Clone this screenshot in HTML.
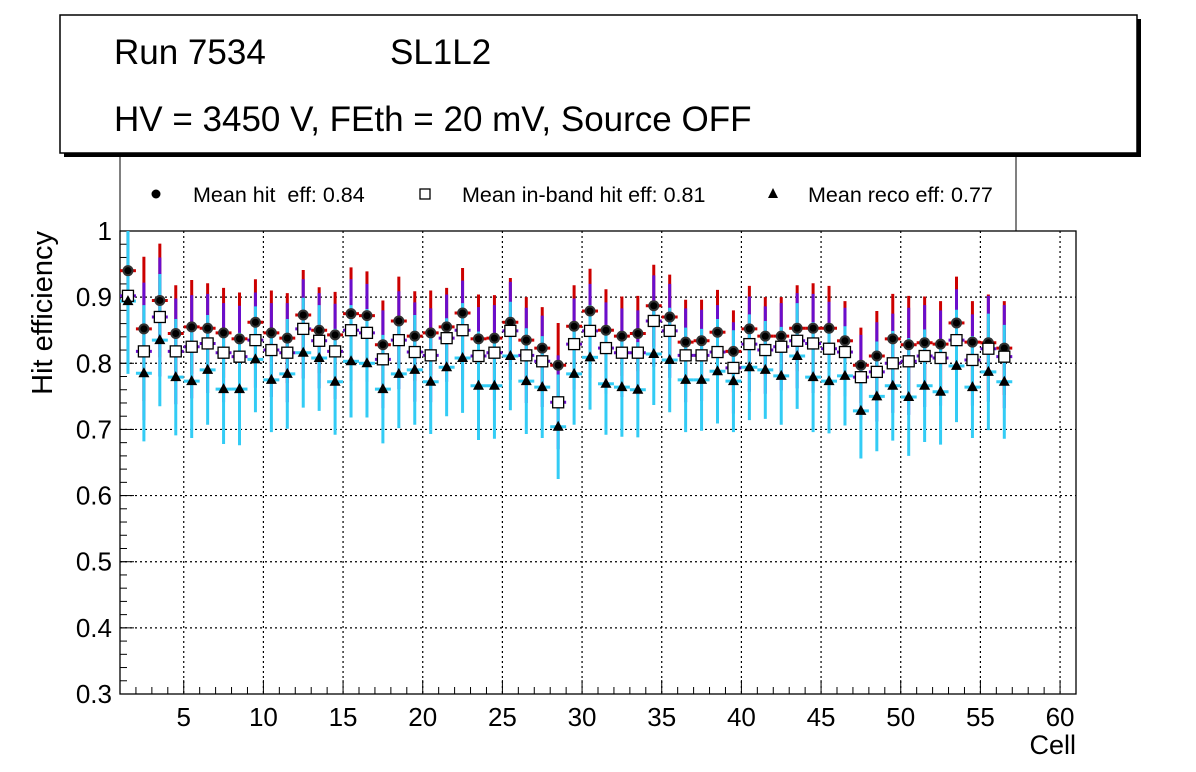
<!DOCTYPE html>
<html><head><meta charset="utf-8"><style>
body{margin:0;background:#fff;}
svg{display:block;font-family:"Liberation Sans",sans-serif;}
</style></head><body>
<svg id="chart" width="1196" height="772" viewBox="0 0 1196 772" xmlns="http://www.w3.org/2000/svg">
<rect x="0" y="0" width="1196" height="772" fill="#fff"/>
<g id="grid"></g>
<g id="axes"></g>
<g id="marks"></g>
<rect x="64" y="19" width="1077" height="138" fill="#000"/>
<rect x="60" y="15" width="1077" height="138" fill="#fff" stroke="#000" stroke-width="1.5"/>
<text x="114" y="64" font-size="35">Run 7534</text>
<text x="390" y="64" font-size="35">SL1L2</text>
<text x="114" y="131" font-size="35">HV = 3450 V, FEth = 20 mV, Source OFF</text>
<g>
<line x1="120" y1="153" x2="120" y2="231" stroke="#000" stroke-width="1"/>
<line x1="1016" y1="153" x2="1016" y2="231" stroke="#000" stroke-width="1"/>
<circle cx="156" cy="194" r="4.5" fill="#000"/>
<text x="193" y="202" font-size="21.5" xml:space="preserve">Mean hit  eff: 0.84</text>
<rect x="420" y="189" width="10" height="10" fill="#fff" stroke="#000" stroke-width="1.3"/>
<text x="462" y="202" font-size="21.5">Mean in-band hit eff: 0.81</text>
<polygon points="773,188 778,198 768,198" fill="#000"/>
<text x="808" y="202" font-size="21.5">Mean reco eff: 0.77</text>
</g>
<text x="0" y="0" font-size="29" text-anchor="end" transform="translate(52,231) rotate(-90)">Hit efficiency</text>
<text x="1076" y="754" font-size="27" text-anchor="end">Cell</text>
</svg>
<script>
const hitEff=[0.94,0.852,0.895,0.845,0.855,0.853,0.846,0.837,0.862,0.846,0.838,0.873,0.85,0.843,0.875,0.872,0.828,0.864,0.841,0.846,0.855,0.876,0.837,0.838,0.862,0.835,0.823,0.797,0.856,0.879,0.85,0.841,0.845,0.887,0.87,0.832,0.834,0.847,0.818,0.852,0.841,0.841,0.853,0.853,0.853,0.834,0.797,0.811,0.837,0.828,0.831,0.829,0.861,0.832,0.831,0.823];
const inbandEff=[0.902,0.818,0.87,0.818,0.825,0.83,0.816,0.81,0.835,0.82,0.816,0.852,0.834,0.818,0.85,0.846,0.806,0.835,0.817,0.812,0.838,0.85,0.811,0.816,0.849,0.812,0.803,0.741,0.829,0.849,0.823,0.816,0.816,0.864,0.849,0.812,0.812,0.817,0.793,0.829,0.82,0.825,0.834,0.83,0.822,0.817,0.779,0.787,0.8,0.803,0.811,0.808,0.835,0.805,0.822,0.81];
const recoEff=[0.894,0.785,0.835,0.779,0.773,0.79,0.761,0.761,0.806,0.775,0.784,0.816,0.808,0.772,0.803,0.8,0.761,0.784,0.79,0.772,0.794,0.808,0.766,0.766,0.811,0.773,0.764,0.704,0.784,0.809,0.769,0.764,0.76,0.814,0.805,0.775,0.775,0.788,0.773,0.794,0.79,0.781,0.811,0.779,0.773,0.781,0.728,0.75,0.766,0.749,0.766,0.757,0.796,0.764,0.787,0.772];
const hitErr=[0.1,0.109,0.086,0.073,0.071,0.068,0.068,0.07,0.065,0.064,0.068,0.068,0.065,0.065,0.07,0.067,0.067,0.067,0.068,0.064,0.059,0.068,0.067,0.065,0.067,0.065,0.062,0.064,0.062,0.064,0.062,0.06,0.057,0.062,0.064,0.064,0.062,0.064,0.062,0.065,0.059,0.059,0.065,0.068,0.064,0.06,0.057,0.068,0.068,0.074,0.07,0.065,0.07,0.062,0.073,0.071];
const inbandErr=[0.1,0.104,0.09,0.08,0.078,0.075,0.075,0.077,0.072,0.071,0.075,0.075,0.072,0.072,0.077,0.074,0.074,0.074,0.075,0.071,0.066,0.075,0.074,0.072,0.074,0.072,0.069,0.071,0.069,0.071,0.069,0.067,0.064,0.069,0.071,0.071,0.069,0.071,0.069,0.072,0.066,0.066,0.072,0.075,0.071,0.067,0.064,0.075,0.075,0.081,0.077,0.072,0.077,0.069,0.08,0.078];
const recoErr=[0.11,0.103,0.1,0.088,0.086,0.083,0.083,0.085,0.08,0.079,0.083,0.083,0.08,0.08,0.085,0.082,0.082,0.082,0.083,0.079,0.074,0.083,0.082,0.08,0.082,0.08,0.077,0.079,0.077,0.079,0.077,0.075,0.072,0.077,0.079,0.079,0.077,0.079,0.077,0.08,0.074,0.074,0.08,0.083,0.079,0.075,0.072,0.083,0.083,0.089,0.085,0.08,0.085,0.077,0.088,0.086];
const xTicks=[5,10,15,20,25,30,35,40,45,50,55,60];
const yTicks=[0.3,0.4,0.5,0.6,0.7,0.8,0.9,1];
const yTickLabels=["0.3","0.4","0.5","0.6","0.7","0.8","0.9","1"];

const NS="http://www.w3.org/2000/svg";
const X0=120,X1=1076,Y0=694,Y1=231,XMIN=1,XMAX=61,YMIN=0.3,YMAX=1.0;
const sx=v=>X0+(v-XMIN)/(XMAX-XMIN)*(X1-X0);
const sy=v=>Y0-(v-YMIN)/(YMAX-YMIN)*(Y0-Y1);
function mk(tag,attrs,parent){const e=document.createElementNS(NS,tag);for(const k in attrs)e.setAttribute(k,attrs[k]);parent.appendChild(e);return e;}
const grid=document.getElementById('grid'),axes=document.getElementById('axes'),marks=document.getElementById('marks');

xTicks.forEach(t=>{
  const g=mk('line',{x1:sx(t),x2:sx(t),y1:Y1,y2:Y0,stroke:'#000','stroke-width':1.2,'stroke-dasharray':'2,3'},grid);
  
  
  const tk=mk('line',{x1:sx(t),x2:sx(t),y1:Y0,y2:Y0-14,stroke:'#000','stroke-width':1},axes);
  
  
  const lb=mk('text',{x:sx(t),y:726,'font-size':26,'text-anchor':'middle'},axes);
  lb.textContent=String(t);
  
  
});
for(let v=2;v<=60;v++){if(v%5===0)continue;mk('line',{x1:sx(v),x2:sx(v),y1:Y0,y2:Y0-7,stroke:'#000','stroke-width':1},axes);}
yTicks.forEach((t,i)=>{
  if(i>0&&i<yTicks.length-1){
    const g=mk('line',{x1:X0,x2:X1,y1:sy(t),y2:sy(t),stroke:'#000','stroke-width':1.2,'stroke-dasharray':'2,3'},grid);
    
    
  }
  const tk=mk('line',{x1:X0,x2:X0+14,y1:sy(t),y2:sy(t),stroke:'#000','stroke-width':1},axes);
  
  
  const lb=mk('text',{x:112,y:sy(t)+9,'font-size':26,'text-anchor':'end'},axes);
  lb.textContent=yTickLabels[i];
  
  
});
for(let v=0.32;v<1.0;v+=0.02){mk('line',{x1:X0,x2:X0+7,y1:sy(v),y2:sy(v),stroke:'#000','stroke-width':1},axes);}
const frame=mk('rect',{x:X0,y:Y1,width:X1-X0,height:Y0-Y1,fill:'none',stroke:'#000','stroke-width':1.3},axes);



const clip=v=>Math.max(Y1,Math.min(Y0,v));
function series(vals,errs,color,marker,name){
  vals.forEach((v,i)=>{
    const c=i+1.5,x=sx(c),y=sy(v);
    const g=mk('g',{},marks);
    
    
    mk('line',{x1:x,x2:x,y1:clip(sy(v+errs[i])),y2:clip(sy(v-errs[i])),stroke:color,'stroke-width':3},g);
    mk('line',{x1:sx(c-0.5),x2:sx(c+0.5),y1:y,y2:y,stroke:color,'stroke-width':3},g);
  });
}
series(hitEff,hitErr,'#cc0000','circle','hit-eff');
series(inbandEff,inbandErr,'#6a0dcc','box','inband-eff');
series(recoEff,recoErr,'#33ccf5','tri','reco-eff');
hitEff.forEach((v,i)=>{const x=sx(i+1.5),y=sy(v);mk('circle',{cx:x,cy:y,r:5.5,fill:'#333'},marks);mk('circle',{cx:x,cy:y,r:3.5,fill:'#000'},marks);});
inbandEff.forEach((v,i)=>{const x=sx(i+1.5),y=sy(v);mk('rect',{x:x-5.5,y:y-5.5,width:11,height:11,fill:'#fff',stroke:'#000','stroke-width':1.3},marks);});
recoEff.forEach((v,i)=>{const x=sx(i+1.5),y=sy(v);mk('polygon',{points:`${x},${y-6} ${x+5.5},${y+4} ${x-5.5},${y+4}`,fill:'#000'},marks);});
</script>
</body></html>
